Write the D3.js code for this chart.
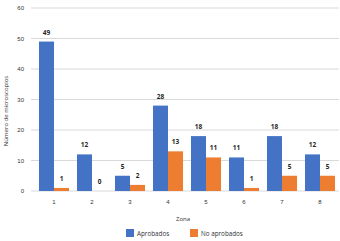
<!DOCTYPE html>
<html><head><meta charset="utf-8">
<script src="https://cdn.jsdelivr.net/npm/d3@7"></script>
<style>body{margin:0;background:#fff}svg{display:block;font-family:"Open Sans",Lato,sans-serif}</style>
</head><body><svg id="c" width="340" height="241"></svg>
<script>
const zonas = ["1","2","3","4","5","6","7","8"];
const aprobados = [49,12,5,28,18,11,18,12];
const noAprobados = [1,0,2,13,11,1,5,5];
const yTicks = [0,10,20,30,40,50,60];
const seriesNames = ["Aprobados","No aprobados"];
const colors = ["#4472C4","#ED7D31"];

const svg = d3.select("#c");
const x = d3.scaleBand().domain(zonas).range([35,339]).paddingInner(0.21).paddingOuter(0.105);
const xs = d3.scaleBand().domain([0,1]).range([0,x.bandwidth()]);
const y = d3.scaleLinear().domain([0,60]).range([191,8]);

svg.append("g").selectAll("line").data(yTicks).join("line")
  .attr("x1",31).attr("x2",339).attr("y1",d=>y(d)).attr("y2",d=>y(d))
  .attr("stroke","#d9d9d9").attr("stroke-width",1);

const yAxis = d3.axisLeft(y).tickValues(yTicks).tickSize(0).tickPadding(0);
const gy = svg.append("g").attr("transform","translate(24,0)").call(yAxis);
gy.select(".domain").remove();
gy.selectAll("text").attr("font-size",6).attr("fill","#333");

const xAxis = d3.axisBottom(x).tickSize(0).tickPadding(0);
const gx = svg.append("g").attr("transform","translate(0,200)").call(xAxis);
gx.select(".domain").remove();
gx.selectAll("text").attr("font-size",6).attr("fill","#333");

const data = zonas.map((z,i)=>({z, v:[aprobados[i],noAprobados[i]]}));
const groups = svg.append("g").selectAll("g").data(data).join("g")
  .attr("transform",d=>`translate(${x(d.z)},0)`);
groups.selectAll("rect").data(d=>d.v.map((v,k)=>({v,k}))).join("rect")
  .attr("x",d=>xs(d.k)).attr("width",xs.bandwidth())
  .attr("y",d=>y(d.v)).attr("height",d=>y(0)-y(d.v))
  .attr("fill",d=>colors[d.k]);
groups.selectAll("text").data(d=>d.v.map((v,k)=>({v,k}))).join("text")
  .attr("x",d=>xs(d.k)+xs.bandwidth()/2).attr("y",d=>y(d.v)-7)
  .attr("text-anchor","middle").attr("font-size",6.5).attr("font-weight","bold")
  .attr("fill","#262626").text(d=>d.v);

svg.append("text").attr("x",183).attr("y",221).attr("text-anchor","middle")
  .attr("font-size",6).attr("fill","#333").text("Zona");
svg.append("text").attr("transform","translate(8,111) rotate(-90)").attr("text-anchor","middle")
  .attr("font-size",6).attr("fill","#333").text("Número de microscopios");

const leg = svg.append("g").selectAll("g").data(seriesNames).join("g")
  .attr("transform",(d,i)=>`translate(${[126,190][i]},229)`);
leg.append("rect").attr("width",8).attr("height",8).attr("fill",(d,i)=>colors[i]);
leg.append("text").attr("x",11).attr("y",6.5).attr("font-size",6.3).attr("fill","#333").text(d=>d);
</script></body></html>
